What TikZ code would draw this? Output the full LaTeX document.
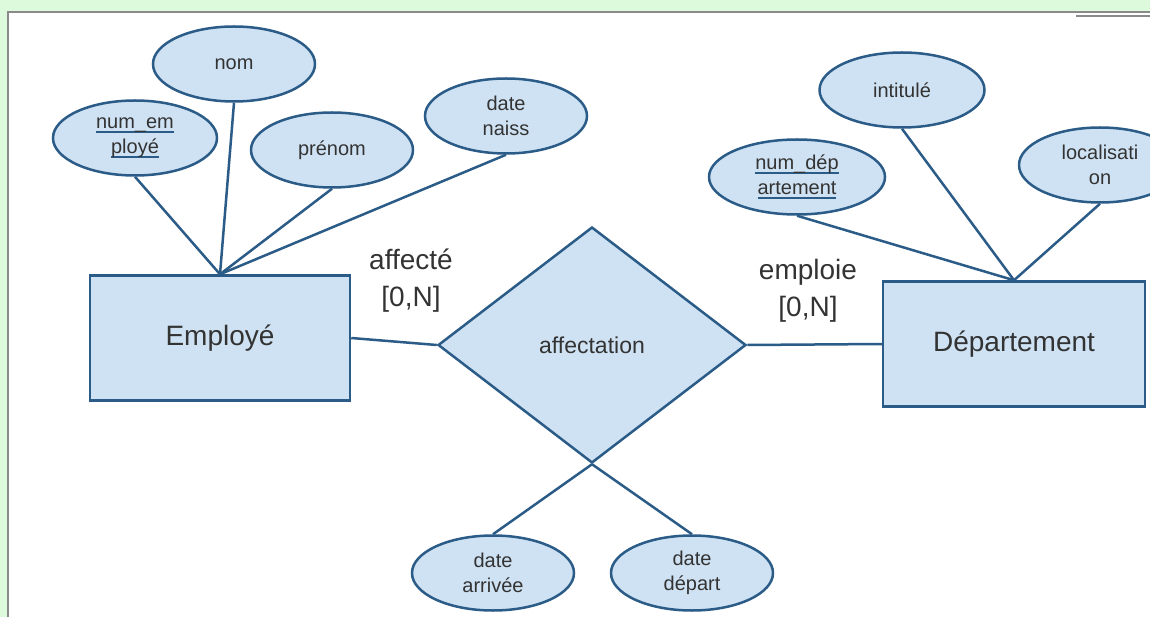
\documentclass[tikz,border=0pt]{standalone}
\usepackage{fontspec}
\setmainfont{Liberation Sans}
\usetikzlibrary{shapes.geometric}
\definecolor{fond}{HTML}{CFE2F3}
\definecolor{bordure}{HTML}{2B5B87}
\definecolor{texte}{HTML}{333333}
\definecolor{vert}{HTML}{DDFADD}
\definecolor{cadre}{HTML}{8A8A8A}
\newcommand\souligne[1]{\setbox0\hbox{#1}\rlap{\color{bordure}\rule[-4pt]{\wd0}{2pt}}\box0}

\begin{document}
\begin{tikzpicture}[x=1pt, y=-1pt,
    entite/.style={draw=bordure, fill=fond, line width=2.5pt, minimum width=260pt, minimum height=125pt, inner sep=0pt, text=texte, font=\fontsize{28}{34}\selectfont},
    attribut/.style={draw=bordure, fill=fond, ellipse, line width=2.5pt, minimum width=162pt, minimum height=75pt, inner sep=0pt, text=texte, align=center, font=\fontsize{20}{25}\selectfont},
    relation/.style={draw=bordure, fill=fond, diamond, line width=2.5pt, minimum width=308pt, minimum height=236pt, inner sep=0pt, text=texte, font=\fontsize{23}{28}\selectfont},
    carte/.style={text=texte, align=center, font=\fontsize{28}{37}\selectfont},
    lien/.style={draw=bordure, line width=2.5pt}]
    \useasboundingbox (0,0) rectangle (1150,617);
    \clip (0,0) rectangle (1150,617);
    % cadre
    \fill[vert] (0,0) rectangle (1150,13);
    \fill[vert] (0,0) rectangle (7,617);
    \draw[cadre, line width=2pt] (8,617) -- (8,12) -- (1150,12);
    \draw[cadre, line width=2pt] (1076,16) -- (1150,16);
    % entites et relation
    \node[entite] (employe) at (220,338) {Employé};
    \node[entite, minimum width=262pt] (departement) at (1014,344) {Département};
    \node[relation] (affectation) at (592,345) {affectation};
    % attributs
    \node[attribut] (nom) at (234,64) {nom};
    \node[attribut, minimum width=164pt] (numemploye) at (135,138) {\souligne{num\_em}\\\souligne{ployé}};
    \node[attribut] (prenom) at (332,150) {prénom};
    \node[attribut] (datenaiss) at (506,116) {date\\naiss};
    \node[attribut, minimum width=165pt] (intitule) at (902,90) {intitulé};
    \node[attribut, minimum width=176pt] (numdep) at (797,177) {\souligne{num\_dép}\\\souligne{artement}};
    \node[attribut] (localisation) at (1100,165) {localisati\\on};
    \node[attribut] (datearrivee) at (493,573) {date\\arrivée};
    \node[attribut] (datedepart) at (692,573) {date\\départ};
    % cardinalites
    \node[carte] (cardaffecte) at (411,281) {affecté\\{[0,N]}};
    \node[carte] (cardemploie) at (808,291) {emploie\\{[0,N]}};
    % liens
    \draw[lien] (employe.north) -- (nom.south);
    \draw[lien] (employe.north) -- (numemploye.south);
    \draw[lien] (employe.north) -- (prenom.south);
    \draw[lien] (employe.north) -- (datenaiss.south);
    \draw[lien] (departement.north) -- (intitule.south);
    \draw[lien] (departement.north) -- (numdep.south);
    \draw[lien] (departement.north) -- (localisation.south);
    \draw[lien] (employe.east) -- (affectation.west);
    \draw[lien] (affectation.east) -- (departement.west);
    \draw[lien] (affectation.south) -- (datearrivee.north);
    \draw[lien] (affectation.south) -- (datedepart.north);
\end{tikzpicture}
\end{document}
